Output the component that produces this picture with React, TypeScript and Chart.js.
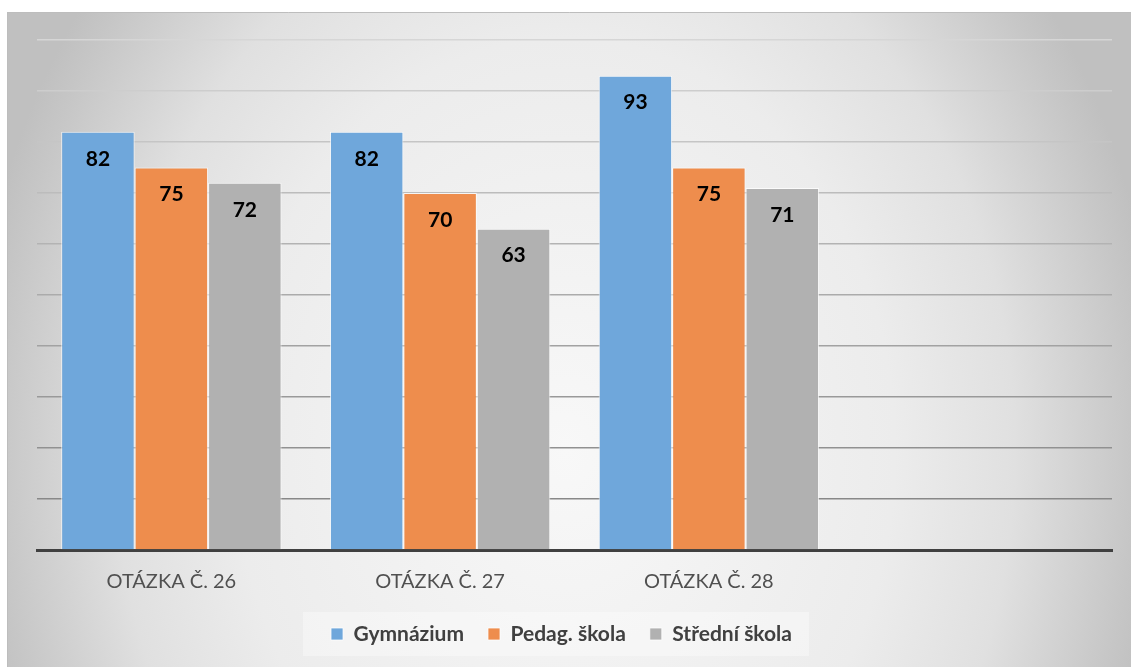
import React, { useEffect, useRef } from "react";
import { Chart, registerables } from "chart.js";

Chart.register(...registerables);

const categories = ["OTÁZKA Č. 26", "OTÁZKA Č. 27", "OTÁZKA Č. 28", ""];
const seriesNames = ["Gymnázium", "Pedag. škola", "Střední škola"];
const gymnazium = [82, 82, 93, null];
const pedagSkola = [75, 70, 75, null];
const stredniSkola = [72, 63, 71, null];
const seriesColors = ["#6fa7db", "#ee8d4d", "#b1b1b1"];

const W = 1131;
const H = 667;

const legendShiftPlugin = {
  id: "legendShift",
  afterLayout(chart: any) {
    const lg = chart.legend;
    if (lg) {
      lg.left -= 13;
      lg.right -= 13;
    }
  },
};

const backgroundPlugin = {
  id: "panelBg",
  beforeDraw(chart: any) {
    const ctx = chart.ctx;
    ctx.save();
    ctx.fillStyle = "#ffffff";
    ctx.fillRect(0, 0, W, H);
    const px = 7, py = 12, pw = W - 7, ph = H - 12;
    const cx = 565, cy = 450, rx = 600, ry = 750;
    ctx.save();
    ctx.beginPath();
    ctx.rect(px, py, pw, ph);
    ctx.clip();
    ctx.translate(cx, cy);
    ctx.scale(1, ry / rx);
    const g = ctx.createRadialGradient(0, 0, 0, 0, 0, rx);
    g.addColorStop(0, "#f8f8f8");
    g.addColorStop(0.55, "#ececec");
    g.addColorStop(0.75, "#e0e0e0");
    g.addColorStop(0.95, "#c6c6c6");
    g.addColorStop(1, "#c0c0c0");
    ctx.fillStyle = g;
    ctx.fillRect(-cx - 10, -2000, 3000, 4000);
    ctx.restore();
    ctx.strokeStyle = "#bdbdbd";
    ctx.lineWidth = 1;
    ctx.beginPath();
    ctx.moveTo(px + 0.5, H);
    ctx.lineTo(px + 0.5, py + 0.5);
    ctx.lineTo(W, py + 0.5);
    ctx.stroke();
    // legend backdrop (centered on the legend row)
    const lg = chart.legend;
    if (lg && lg.legendHitBoxes && lg.legendHitBoxes.length) {
      const boxes = lg.legendHitBoxes;
      const cyL = boxes[0].top + boxes[0].height / 2;
      ctx.fillStyle = "rgba(255,255,255,0.35)";
      ctx.fillRect(303, cyL - 22, 506, 44);
    }
    ctx.restore();
  },
};

const dataLabelPlugin = {
  id: "barLabels",
  afterDatasetsDraw(chart: any) {
    const ctx = chart.ctx;
    ctx.save();
    ctx.font = "bold 21px Lato";
    ctx.fillStyle = "#000000";
    ctx.textAlign = "center";
    ctx.textBaseline = "middle";
    chart.data.datasets.forEach((ds: any, i: number) => {
      const meta = chart.getDatasetMeta(i);
      meta.data.forEach((bar: any, j: number) => {
        const v = ds.data[j];
        if (v === null || v === undefined) return;
        ctx.fillText(String(v), bar.x, bar.y + 27);
      });
    });
    ctx.restore();
  },
};

function gridColor(v: number) {
  if (v === 0) return "rgba(0,0,0,0)";
  const c = Math.round(136 + ((v - 10) / 90) * 78);
  return `rgb(${c},${c},${c})`;
}

export default function App() {
  const ref = useRef<HTMLCanvasElement | null>(null);
  useEffect(() => {
    if (!ref.current) return;
    const values = [gymnazium, pedagSkola, stredniSkola];
    const chart = new Chart(ref.current, {
      type: "bar",
      data: {
        labels: categories,
        datasets: seriesNames.map((name, i) => ({
          label: name,
          data: values[i],
          backgroundColor: seriesColors[i],
          borderColor: "rgba(255,255,255,0.75)",
          borderWidth: 1,
          categoryPercentage: 0.82,
          barPercentage: 1.0,
        })),
      },
      options: {
        responsive: false,
        animation: false,
        maintainAspectRatio: false,
        layout: { padding: { left: 37, right: 19, top: 40, bottom: 12.5 } },
        plugins: {
          tooltip: { enabled: false },
          legend: {
            position: "bottom",
            labels: {
              boxWidth: 12,
              boxHeight: 12,
              padding: 24,
              color: "#404040",
              font: { family: "Lato", size: 21, weight: "bold" },
            },
          },
        },
        scales: {
          x: {
            grid: { display: false, drawTicks: false },
            border: { display: true, color: "#404040", width: 3 },
            ticks: {
              color: "#505050",
              padding: 20,
              font: { family: "Lato", size: 20 },
              maxRotation: 0,
            },
            afterFit: (s: any) => {
              s.height = 49.5;
            },
          },
          y: {
            min: 0,
            max: 100,
            ticks: { display: false, stepSize: 10 },
            border: { display: false },
            grid: {
              drawTicks: false,
              lineWidth: 1.5,
              color: (c: any) => gridColor(c.tick ? c.tick.value : 0),
            },
          },
        },
      },
      plugins: [legendShiftPlugin, backgroundPlugin, dataLabelPlugin],
    });
    return () => chart.destroy();
  }, []);
  return (
    <div style={{ position: "absolute", left: 0, top: 0, width: W, height: H }}>
      <canvas ref={ref} width={W} height={H} style={{ display: "block" }} />
    </div>
  );
}
